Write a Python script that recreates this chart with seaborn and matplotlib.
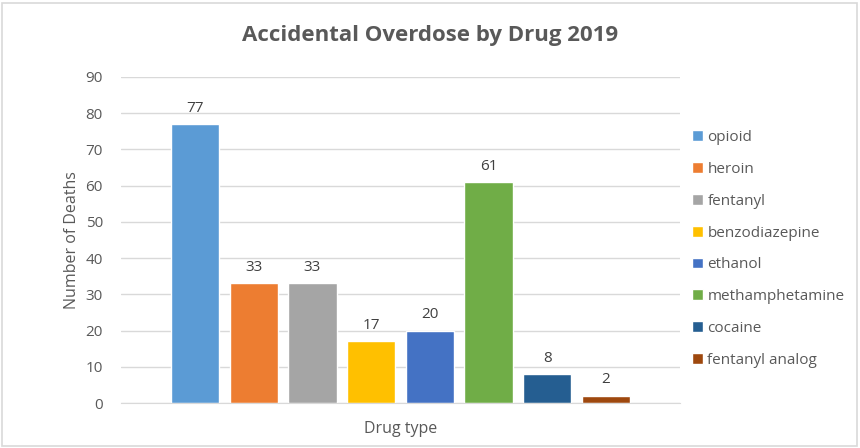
import numpy as np
import pandas as pd
import matplotlib.pyplot as plt
import seaborn as sns
from matplotlib.patches import Rectangle

drugs = ["opioid", "heroin", "fentanyl", "benzodiazepine", "ethanol",
         "methamphetamine", "cocaine", "fentanyl analog"]
deaths = [77, 33, 33, 17, 20, 61, 8, 2]
colors = ["#5B9BD5", "#ED7D31", "#A5A5A5", "#FFC000", "#4472C4",
          "#70AD47", "#255E91", "#9E480E"]
y_ticks = [0, 10, 20, 30, 40, 50, 60, 70, 80, 90]

df = pd.DataFrame({"group": [""] * len(drugs), "drug": drugs, "deaths": deaths})

sns.set_style("white")
plt.rcParams["font.family"] = ["Open Sans", "DejaVu Sans"]
text_col = "#595959"

fig = plt.figure(figsize=(8.6, 4.48), dpi=100)
ax = fig.add_axes([121 / 860, 1 - 403 / 448, 559 / 860, 326 / 448])

sns.barplot(data=df, x="group", y="deaths", hue="drug", hue_order=drugs,
            palette=colors, width=0.84, gap=0.18, dodge=True, ax=ax,
            saturation=1, legend=True)

ax.set_xlim(-0.5, 0.5)
ax.set_ylim(0, 90)
ax.set_yticks(y_ticks)
ax.tick_params(axis="y", length=0, labelsize=11, labelcolor=text_col, pad=13)
ax.tick_params(axis="x", length=0, labelbottom=False)
ax.yaxis.grid(True, color="#D9D9D9", linewidth=1)
ax.set_axisbelow(True)
for s in ["top", "right", "left"]:
    ax.spines[s].set_visible(False)
ax.spines["bottom"].set_color("#D9D9D9")

for c in ax.containers:
    ax.bar_label(c, padding=6, fontsize=11, color="#404040")

ax.set_xlabel("Drug type", fontsize=11.5, color=text_col, labelpad=13)
ax.set_ylabel("Number of Deaths", fontsize=11.5, color=text_col, labelpad=4)

fig.suptitle("Accidental Overdose by Drug 2019", x=430 / 860, y=1 - 35 / 448,
             fontsize=16, fontweight="bold", color=text_col, va="center")

handles, labels = ax.get_legend_handles_labels()
ax.legend(handles, labels, loc="upper left", bbox_to_anchor=(686 / 860, 1 - 124 / 448),
          bbox_transform=fig.transFigure, frameon=False, fontsize=11,
          handlelength=0.7, handleheight=0.7, handletextpad=0.3,
          labelspacing=1.1, labelcolor=text_col, borderaxespad=0)

fig.patches.append(Rectangle((2 / 860, 2 / 448), 855 / 860, 443 / 448,
                             transform=fig.transFigure, fill=False,
                             edgecolor="#D9D9D9", linewidth=1.2))

fig.savefig("out.png", dpi=100)
